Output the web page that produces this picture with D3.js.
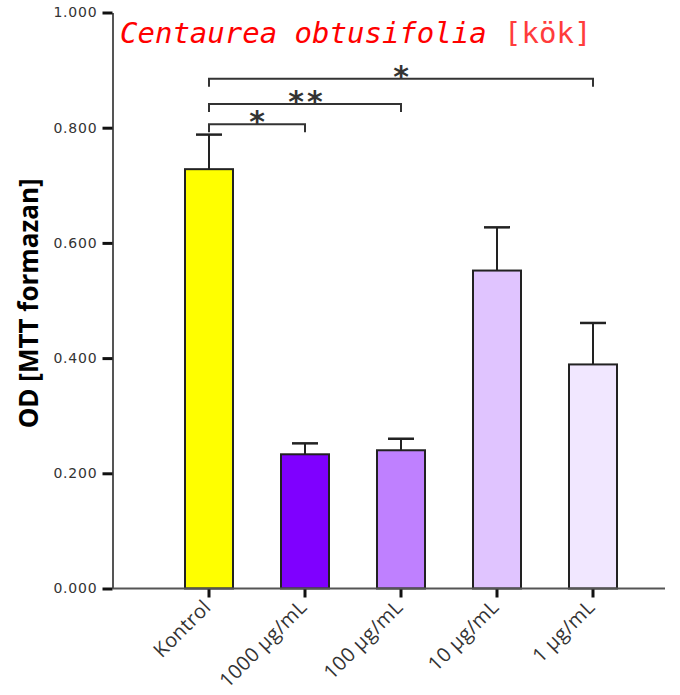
<!DOCTYPE html>
<html>
<head>
<meta charset="utf-8">
<script src="https://cdn.jsdelivr.net/npm/d3@7"></script>
<style>
  body { margin: 0; background: #fff; }
</style>
</head>
<body>
<svg id="chart"></svg>
<script>
// data
const groups = ["Kontrol", "1000 µg/mL", "100 µg/mL", "10 µg/mL", "1 µg/mL"];
const means = [0.728, 0.233, 0.240, 0.552, 0.389];
const sems = [0.060, 0.019, 0.020, 0.075, 0.072];
const barColors = ["#ffff00", "#7f00ff", "#bf80ff", "#e0c4ff", "#f1e7ff"];
const yTicks = [0, 0.2, 0.4, 0.6, 0.8, 1.0];

// significance brackets (from Kontrol), level in data units
const sigFrom = ["Kontrol", "Kontrol", "Kontrol"];
const sigTo = ["1000 µg/mL", "100 µg/mL", "1 µg/mL"];
const sigLevel = [0.806, 0.841, 0.885];
const sigMark = ["*", "**", "*"];

const width = 680, height = 695;
const axisLeftX = 112.5, axisRightX = 665;

const svg = d3.select('#chart').attr('width', width).attr('height', height);

let y = d3.scaleLinear()
  .domain([0, 1])
  .range([588.5, 12.5]);

let x = d3.scaleBand()
  .domain(groups)
  .range([161, 641])
  .paddingInner(0.5)
  .paddingOuter(0.25);

// y axis
let yAxis = g => g
  .attr("transform", `translate(${axisLeftX},0)`)
  .call(d3.axisLeft(y).tickValues(yTicks).tickFormat(d3.format(".3f"))
    .tickSize(10).tickSizeOuter(0).tickPadding(5))
  .call(g => g.select(".domain").attr("stroke", "#555").attr("stroke-width", 2))
  .call(g => g.selectAll(".tick line").attr("stroke", "#111").attr("stroke-width", 3))
  .call(g => g.selectAll(".tick text")
    .attr("fill", "#333")
    .attr("font-family", "DejaVu Sans")
    .attr("font-size", 14)
    .attr("letter-spacing", 0.8));

svg.append("g").call(yAxis);

// x axis
let xAxis = g => g
  .attr("transform", `translate(0,${y(0)})`)
  .call(d3.axisBottom(x).tickSize(9).tickSizeOuter(0))
  .call(g => g.select(".domain").remove())
  .call(g => g.selectAll(".tick line").attr("stroke", "#111").attr("stroke-width", 3))
  .call(g => g.selectAll(".tick text")
    .attr("fill", "#333")
    .attr("font-family", "Open Sans")
    .attr("font-size", 20)
    .attr("letter-spacing", 0.3)
    .attr("text-anchor", "end")
    .attr("x", 0).attr("y", 0).attr("dy", 0)
    .attr("transform", "translate(3,20) rotate(-45)"));

// bars
const bars = svg.selectAll('.bar')
  .data(groups)
  .enter()
  .append('g').attr('class', 'bar');

bars.append('rect')
  .attr("x", d => x(d))
  .attr("y", (d, i) => y(means[i]))
  .attr("width", x.bandwidth())
  .attr("height", (d, i) => y(0) - y(means[i]))
  .attr("fill", (d, i) => barColors[i])
  .attr("stroke", "#222")
  .attr("stroke-width", 2);

// upper error bars
bars.append('line')
  .attr("x1", d => x(d) + x.bandwidth() / 2)
  .attr("x2", d => x(d) + x.bandwidth() / 2)
  .attr("y1", (d, i) => y(means[i]))
  .attr("y2", (d, i) => y(means[i] + sems[i]))
  .attr("stroke", "#222").attr("stroke-width", 2);

bars.append('line')
  .attr("x1", d => x(d) + x.bandwidth() / 2 - 13)
  .attr("x2", d => x(d) + x.bandwidth() / 2 + 13)
  .attr("y1", (d, i) => y(means[i] + sems[i]))
  .attr("y2", (d, i) => y(means[i] + sems[i]))
  .attr("stroke", "#222").attr("stroke-width", 2.5);

svg.append("g").call(xAxis);

svg.append("line")
  .attr("x1", axisLeftX).attr("x2", axisRightX)
  .attr("y1", y(0)).attr("y2", y(0))
  .attr("stroke", "#555").attr("stroke-width", 2);

// significance brackets
const cx = d => x(d) + x.bandwidth() / 2;
const brackets = svg.selectAll('.sig')
  .data(sigLevel)
  .enter()
  .append('g').attr('class', 'sig');

brackets.append('path')
  .attr("d", (d, i) => {
    const x1 = cx(sigFrom[i]), x2 = cx(sigTo[i]), yy = y(d);
    return `M${x1},${yy + 8}V${yy}H${x2}V${yy + 8}`;
  })
  .attr("fill", "none")
  .attr("stroke", "#333")
  .attr("stroke-width", 2);

brackets.append('text')
  .attr("x", (d, i) => (cx(sigFrom[i]) + cx(sigTo[i])) / 2 + (sigMark[i].length > 1 ? 2 : 0))
  .attr("y", d => y(d) + 8)
  .attr("text-anchor", "middle")
  .attr("font-family", "DejaVu Sans")
  .attr("font-weight", "bold")
  .attr("font-size", 30)
  .attr("letter-spacing", (d, i) => sigMark[i].length > 1 ? 3 : 0)
  .attr("fill", "#333")
  .text((d, i) => sigMark[i]);

// y label
svg.append("text")
  .attr("transform", `translate(38,${y(0.495)}) rotate(-90)`)
  .attr("text-anchor", "middle")
  .attr("font-family", "Open Sans")
  .attr("font-weight", "bold")
  .attr("font-size", 26)
  .attr("fill", "#000")
  .text("OD [MTT formazan]");

// title
const title = svg.append("text")
  .attr("x", 120)
  .attr("y", 43)
  .attr("font-family", "DejaVu Sans Mono")
  .attr("font-size", 29);

title.append("tspan")
  .attr("fill", "#ff0000")
  .attr("font-style", "italic")
  .text("Centaurea obtusifolia ");

title.append("tspan")
  .attr("fill", "#ff3c3c")
  .attr("font-weight", "300")
  .text("[kök]");
</script>
</body>
</html>
